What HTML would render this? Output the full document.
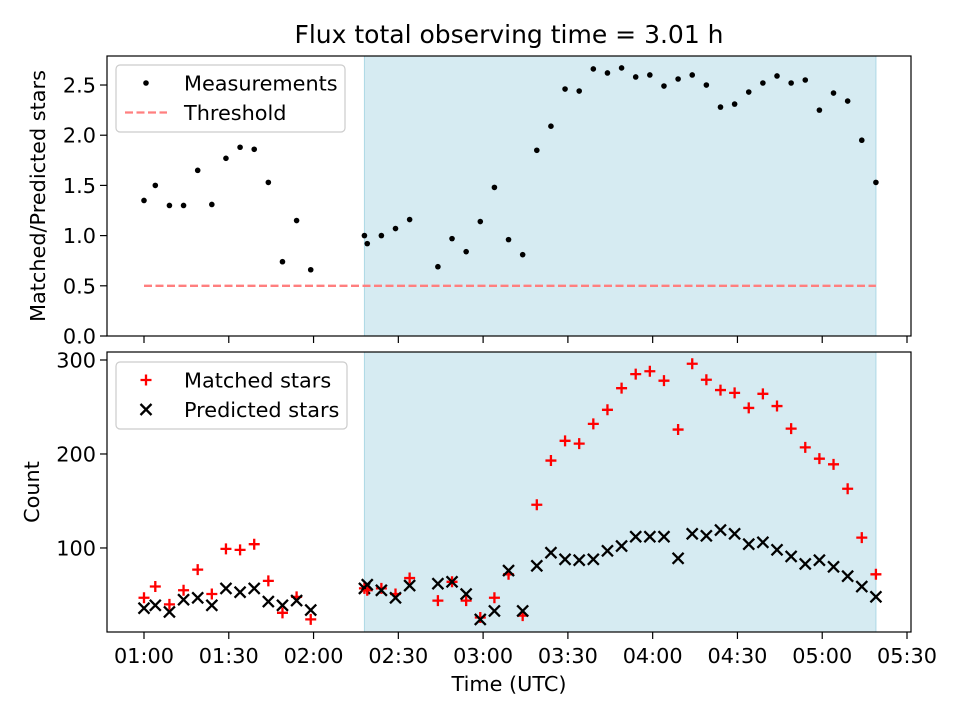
<!DOCTYPE html>
<html><head><meta charset="utf-8"><style>
body{margin:0;background:#fff;}
svg{font-family:"DejaVu Sans","Liberation Sans",sans-serif;}
</style></head><body>
<svg id="chart" width="960" height="720"></svg>
<script>
const times=[0,4,9,14,19,24,29,34,39,44,49,54,59,78,79,84,89,94,104,109,114,119,124,129,134,139,144,149,154,159,164,169,174,179,184,189,194,199,204,209,214,219,224,229,234,239,244,249,254,259];
const ratio=[1.35,1.50,1.30,1.30,1.65,1.31,1.77,1.88,1.86,1.53,0.74,1.15,0.66,1.00,0.92,1.00,1.07,1.16,0.69,0.97,0.84,1.14,1.48,0.96,0.81,1.85,2.09,2.46,2.44,2.66,2.62,2.67,2.58,2.60,2.49,2.56,2.60,2.50,2.28,2.31,2.43,2.52,2.59,2.52,2.55,2.25,2.42,2.34,1.95,1.53];
const matched=[47,59,40,55,77,51,99,98,104,65,31,48,24,57,55,57,51,68,44,64,44,26,47,72,28,146,193,214,211,232,247,270,285,288,278,226,296,279,268,265,249,264,251,227,207,195,189,163,111,72];
const predicted=[36,39,32,45,47,39,57,53,57,43,39,44,34,57,61,55,47,60,62,64,51,24,33,76,33,81,95,88,87,88,97,102,112,112,112,89,115,113,119,115,104,106,98,91,83,87,80,70,59,48];
const threshold=0.5;
const shadeRange=[78,259];
const xTickLabels=["01:00","01:30","02:00","02:30","03:00","03:30","04:00","04:30","05:00","05:30"];
const xTickMins=[0,30,60,90,120,150,180,210,240,270];
const topTicks=[0,0.5,1.0,1.5,2.0,2.5];
const botTicks=[100,200,300];

const NS="http://www.w3.org/2000/svg";
const svg=document.getElementById('chart');
function el(tag,attrs,parent){const e=document.createElementNS(NS,tag);for(const k in attrs)e.setAttribute(k,attrs[k]);(parent||svg).appendChild(e);return e;}
const L=107,R=911,FS=20.8;
const x=m=>144+m*(763/270);
const T={top:56,bot:336,min:0,max:2.789};
const B={top:352,bot:632,min:10.6,max:308.5};
const yT=v=>T.bot-(v-T.min)/(T.max-T.min)*(T.bot-T.top);
const yB=v=>B.bot-(v-B.min)/(B.max-B.min)*(B.bot-B.top);

let t=el('text',{x:509,y:43,'font-size':'25','text-anchor':'middle',fill:'#000'});t.textContent='Flux total observing time = 3.01 h';



function panel(P,yf,ticks,fmt,name,ylabel,ylx){
  const g=el('g',{});
  
  
  const s=el('rect',{x:x(shadeRange[0]),y:P.top,width:x(shadeRange[1])-x(shadeRange[0]),height:P.bot-P.top,fill:'#add8e6','fill-opacity':'0.5',stroke:'#add8e6'},g);
  
  
  ticks.forEach(v=>{const yy=yf(v);el('line',{x1:L-7,x2:L,y1:yy,y2:yy,stroke:'#000','stroke-width':1.2},g);
    const tt=el('text',{x:L-11,y:yy+7.5,'font-size':FS,'text-anchor':'end'},g);tt.textContent=fmt(v);
    
    });
  xTickMins.forEach(m=>el('line',{x1:x(m),x2:x(m),y1:P.bot,y2:P.bot+7,stroke:'#000','stroke-width':1.2},g));
  const yl=el('text',{x:ylx,y:(P.top+P.bot)/2,'font-size':FS,'text-anchor':'middle',transform:`rotate(-90 ${ylx} ${(P.top+P.bot)/2})`},g);
  yl.textContent=ylabel;
  
  
  return g;
}
const gT=panel(T,yT,topTicks,v=>v.toFixed(1),'top-panel','Matched/Predicted stars',45);
const th=el('line',{x1:x(0),x2:x(shadeRange[1]),y1:yT(threshold),y2:yT(threshold),stroke:'#ff7f7f','stroke-width':2.3,'stroke-dasharray':'8,3.5'},gT);


times.forEach((m,i)=>{const c=el('circle',{cx:x(m),cy:yT(ratio[i]),r:2.8,fill:'#000'},gT);
  
  });
el('rect',{x:L,y:T.top,width:R-L,height:T.bot-T.top,fill:'none',stroke:'#000','stroke-width':1.2},gT);

const gB=panel(B,yB,botTicks,v=>String(v),'bottom-panel','Count',39);
times.forEach((m,i)=>{
  const px=x(m),py=yB(matched[i]);
  const p=el('path',{d:`M${px-5.5} ${py}H${px+5.5}M${px} ${py-5.5}V${py+5.5}`,stroke:'#ff0000','stroke-width':2.3},gB);
  
  
  const qy=yB(predicted[i]);
  const q=el('path',{d:`M${px-5.5} ${qy-5.5}L${px+5.5} ${qy+5.5}M${px-5.5} ${qy+5.5}L${px+5.5} ${qy-5.5}`,stroke:'#000','stroke-width':2.3},gB);
  
  
});
el('rect',{x:L,y:B.top,width:R-L,height:B.bot-B.top,fill:'none',stroke:'#000','stroke-width':1.2},gB);
xTickMins.forEach((m,i)=>{const tt=el('text',{x:x(m),y:663,'font-size':FS,'text-anchor':'middle'});tt.textContent=xTickLabels[i];
  
  });
const xl=el('text',{x:509,y:691,'font-size':FS,'text-anchor':'middle'});xl.textContent='Time (UTC)';



function legend(g,yy,h,w,entries,name){
  const lg=el('g',{},g);
  
  
  el('rect',{x:116,y:yy,width:w,height:h,rx:4,fill:'#fff','fill-opacity':0.8,stroke:'#ccc','stroke-width':1.2},lg);
  entries.forEach((e,i)=>{const cy=yy+18+i*29.5;e.draw(lg,146,cy);
    const tx=el('text',{x:184,y:cy+7.5,'font-size':FS},lg);tx.textContent=e.label;
    
    });
}
legend(gT,65,67,229,[
 {label:'Measurements',draw:(g,cx,cy)=>el('circle',{cx:cx,cy:cy,r:2.8,fill:'#000'},g)},
 {label:'Threshold',draw:(g,cx,cy)=>el('line',{x1:cx-21,x2:cx+21,y1:cy,y2:cy,stroke:'#ff7f7f','stroke-width':2.3,'stroke-dasharray':'8,3.5'},g)}
],'top-legend');
legend(gB,362,67,231,[
 {label:'Matched stars',draw:(g,cx,cy)=>el('path',{d:`M${cx-5.5} ${cy}H${cx+5.5}M${cx} ${cy-5.5}V${cy+5.5}`,stroke:'#f00','stroke-width':2.3},g)},
 {label:'Predicted stars',draw:(g,cx,cy)=>el('path',{d:`M${cx-5.5} ${cy-5.5}L${cx+5.5} ${cy+5.5}M${cx-5.5} ${cy+5.5}L${cx+5.5} ${cy-5.5}`,stroke:'#000','stroke-width':2.3},g)}
],'bottom-legend');
</script>
</body></html>
